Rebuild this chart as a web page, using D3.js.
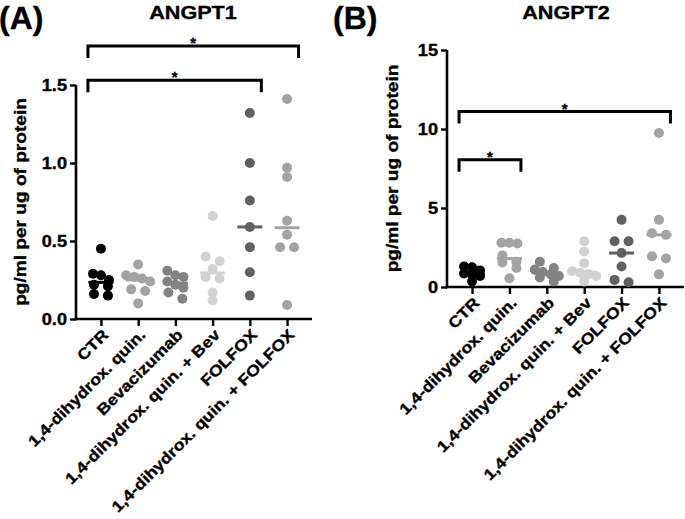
<!DOCTYPE html>
<html><head><meta charset="utf-8">
<script src="https://cdn.jsdelivr.net/npm/d3@7"></script>
<style>body{margin:0;background:#fff}text{font-family:"Liberation Sans",Arial,sans-serif;font-weight:bold;fill:#000;stroke:#000;stroke-width:0.35px}</style>
</head><body>
<svg id="chart" width="685" height="519"></svg>
<script>
// ---------- data ----------
const categories = ["CTR", "1,4-dihydrox. quin.", "Bevacizumab", "1,4-dihydrox. quin. + Bev", "FOLFOX", "1,4-dihydrox. quin. + FOLFOX"];
const groupColors = ["#000000", "#a3a3a3", "#838383", "#d2d2d2", "#616161", "#a3a3a3"];

const angpt1CTR   = [0.45, 0.29, 0.28, 0.25, 0.22, 0.21, 0.16, 0.15];
const angpt1Quin  = [0.35, 0.28, 0.27, 0.26, 0.24, 0.19, 0.18, 0.10];
const angpt1Bev   = [0.31, 0.28, 0.27, 0.24, 0.22, 0.20, 0.17, 0.13];
const angpt1QBev  = [0.66, 0.40, 0.37, 0.32, 0.27, 0.26, 0.17, 0.12];
const angpt1FOL   = [1.32, 1.00, 0.76, 0.59, 0.46, 0.30, 0.15];
const angpt1QFOL  = [1.41, 0.97, 0.91, 0.63, 0.54, 0.46, 0.46, 0.09];

const angpt2CTR   = [1.30, 1.25, 1.05, 0.85, 0.80, 0.70, 0.35];
const angpt2Quin  = [2.80, 2.80, 2.75, 2.00, 1.60, 1.55, 1.20, 0.55];
const angpt2Bev   = [1.60, 1.20, 1.10, 0.95, 0.80, 0.70, 0.60, 0.35];
const angpt2QBev  = [2.90, 2.25, 1.50, 1.00, 0.90, 0.80, 0.70, 0.35];
const angpt2FOL   = [4.25, 2.90, 2.90, 2.15, 1.30, 0.45, 0.30];
const angpt2QFOL  = [9.75, 4.25, 3.40, 3.30, 1.95, 1.80, 0.80];

const ticksA = [0, 0.5, 1.0, 1.5];
const ticksB = [0, 5, 10, 15];

// significance comparisons: group indices and bracket height in data units
const compA = [{from: 0, to: 5, at: 1.75, label: "*"}, {from: 0, to: 4, at: 1.53, label: "*"}];
const compB = [{from: 0, to: 5, at: 11.1, label: "*"}, {from: 0, to: 1, at: 8.05, label: "*"}];

const yTitle = "pg/ml per ug of protein";

// ---------- drawing ----------
const svg = d3.select("#chart");
const SX = 1.15; // horizontal font stretch

function styleText(sel, size) {
  sel.style("font-size", size).style("font-weight", "bold").attr("fill", "#000")
    .style("font-family", '"Liberation Sans",Arial,sans-serif');
}

function drawPanel(cfg) {
  const g = svg.append("g");
  const x = d3.scalePoint().domain(categories).range([cfg.x0, cfg.x1]).padding(0.67);
  const y = d3.scaleLinear().domain([0, cfg.ymax]).range([cfg.yBot, cfg.yTop]);

  // y axis
  const ya = g.append("g").attr("transform", `translate(${cfg.x0},0)`)
    .call(d3.axisLeft(y).tickValues(cfg.ticks).tickFormat(d3.format(cfg.fmt)).tickSize(6).tickSizeOuter(0));
  ya.select(".domain").attr("stroke-width", 2.6).attr("d", `M0,${cfg.yBot + 1.3}V${cfg.yTop}`);
  ya.selectAll(".tick line").attr("stroke-width", 2.4);
  styleText(ya.selectAll(".tick text").attr("x", 0).attr("dy", "0.36em")
    .attr("transform", `translate(-9,0) scale(${SX},1)`), "15.8px");

  // x axis
  const xa = g.append("g").attr("transform", `translate(0,${cfg.yBot})`)
    .call(d3.axisBottom(x).tickSize(7).tickSizeOuter(0));
  xa.select(".domain").attr("stroke-width", 2.6).attr("d", `M${cfg.x0 - 1.3},0H${cfg.x1}`);
  xa.selectAll(".tick line").attr("stroke-width", 2.4);
  styleText(xa.selectAll(".tick text").attr("x", 0).attr("y", 0).attr("dy", "0.35em")
    .attr("text-anchor", "end")
    .attr("transform", `translate(4,13) rotate(-45) scale(${SX},1)`), "15.5px");

  // dots (row-based scatter arrangement)
  cfg.series.forEach((vals, gi) => {
    const cx = x(categories[gi]);
    const sorted = vals.slice().sort((a, b) => b - a);
    const rows = [];
    sorted.forEach(v => {
      const last = rows[rows.length - 1];
      if (last && Math.abs(y(last[0]) - y(v)) < 7) last.push(v); else rows.push([v]);
    });
    const pts = [];
    rows.forEach(r => {
      const sp = r.length === 2 ? 14 : 8;
      r.forEach((v, i) => pts.push({v, dx: (i - (r.length - 1) / 2) * sp}));
    });
    g.selectAll(null).data(pts).join("circle")
      .attr("cx", d => cx + d.dx).attr("cy", d => y(d.v)).attr("r", 5)
      .attr("fill", groupColors[gi]);
    const med = d3.median(vals);
    g.append("line").attr("x1", cx - 12.5).attr("x2", cx + 12.5)
      .attr("y1", y(med)).attr("y2", y(med))
      .attr("stroke", groupColors[gi]).attr("stroke-width", 3);
  });

  // brackets
  cfg.comps.forEach(c => {
    const xl = x(categories[c.from]) - 13, xr = x(categories[c.to]) + 11.5, yy = y(c.at);
    g.append("path").attr("d", `M${xl},${yy + 12}V${yy}H${xr}V${yy + 12}`)
      .attr("fill", "none").attr("stroke", "#000").attr("stroke-width", 3);
    styleText(g.append("text").attr("x", (xl + xr) / 2).attr("y", yy + 2).attr("text-anchor", "middle")
      .text(c.label), "15px");
  });

  // y title
  styleText(g.append("text").attr("text-anchor", "middle").attr("dy", "0.35em")
    .attr("transform", `translate(${cfg.titleX},${(cfg.yTop + cfg.yBot) / 2}) rotate(-90) scale(${SX},1)`)
    .text(yTitle), "16.6px");

  // panel title
  styleText(g.append("text").attr("text-anchor", "middle")
    .attr("transform", `translate(${cfg.headX},18.5) scale(${SX},1)`)
    .text(cfg.head), "18.8px");
  styleText(g.append("text").attr("x", cfg.tagX).attr("y", 29).text(cfg.tag), "32px");
}

drawPanel({x0: 76, x1: 312, yTop: 85, yBot: 319, ymax: 1.5, ticks: ticksA, fmt: ".1f",
  series: [angpt1CTR, angpt1Quin, angpt1Bev, angpt1QBev, angpt1FOL, angpt1QFOL],
  comps: compA, titleX: 20, head: "ANGPT1", headX: 193, tag: "(A)", tagX: -1});
drawPanel({x0: 447, x1: 684, yTop: 50, yBot: 287, ymax: 15, ticks: ticksB, fmt: "d",
  series: [angpt2CTR, angpt2Quin, angpt2Bev, angpt2QBev, angpt2FOL, angpt2QFOL],
  comps: compB, titleX: 392, head: "ANGPT2", headX: 566, tag: "(B)", tagX: 333});
</script>
</body></html>
